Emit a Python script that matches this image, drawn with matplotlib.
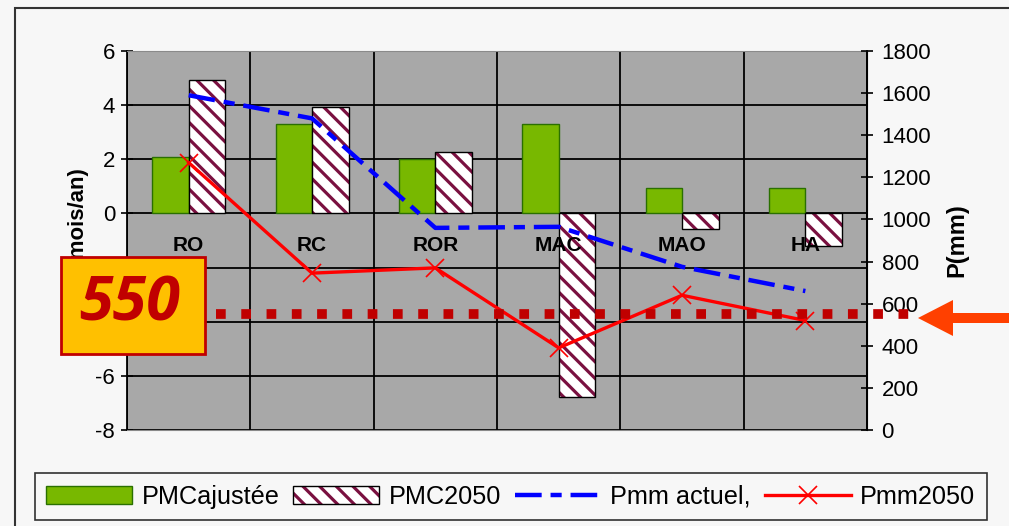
import numpy as np
import matplotlib
matplotlib.use("Agg")
import matplotlib.pyplot as plt
import matplotlib.patches as mpatches
import matplotlib.transforms as mtransforms
from matplotlib.lines import Line2D

# Données par unité
categories = ["RO", "RC", "ROR", "MAC", "MAO", "HA"]
pmc_ajustee = [2.07, 3.29, 2.0, 3.29, 0.93, 0.93]
pmc_2050 = [4.93, 3.93, 2.26, -6.77, -0.59, -1.2]
pmm_actuel = [1590, 1480, 960, 965, 775, 660]
pmm_2050 = [1270, 745, 770, 390, 640, 520]
seuil = 550

left_ticks = [-8, -6, -4, -2, 0, 2, 4, 6]
right_ticks = [0, 200, 400, 600, 800, 1000, 1200, 1400, 1600, 1800]

bg = "#F7F7F7"
green = "#78B800"
maroon = "#7A1040"
blue_dash = (0, (6, 2, 2.5, 2))

plt.rcParams["font.family"] = ["Liberation Sans", "DejaVu Sans"]
plt.rcParams["hatch.linewidth"] = 2.3
plt.rcParams["axes.unicode_minus"] = False

fig = plt.figure(figsize=(10.09, 5.26), dpi=100, facecolor=bg)
ax = fig.add_axes([0.1259, 0.1825, 0.7334, 0.7205])
ax.set_facecolor("#A8A8A8")

x = np.arange(len(categories))
w = 0.296

ax.bar(x - w / 2, pmc_ajustee, w, color=green, edgecolor="#2A7000", linewidth=1, zorder=2)
ax.bar(x + w / 2, pmc_2050, w, color="white", edgecolor=maroon, hatch="\\\\", linewidth=0, zorder=2)
ax.bar(x + w / 2, pmc_2050, w, fill=False, edgecolor="black", linewidth=1, zorder=3)

ax.set_xlim(-0.5, len(categories) - 0.5)
ax.set_ylim(-8, 6)
ax.set_yticks(left_ticks)
ax.set_xticks(np.arange(-0.5, len(categories), 1))
ax.set_xticklabels([])
ax.tick_params(axis="x", length=0)
ax.tick_params(axis="y", direction="inout", length=9, width=1.2, labelsize=16, pad=4)
ax.grid(True, color="black", linewidth=1.3)
ax.set_axisbelow(True)

for i, c in enumerate(categories):
    ax.text(i, -1.2, c, ha="center", va="center", fontsize=15, fontweight="bold", zorder=5)

ax.set_ylabel("PMC(mois/an)", fontsize=16, fontweight="bold", labelpad=6)

for side in ["top", "bottom"]:
    ax.spines[side].set_color("#8A8A8A")
ax.spines["left"].set_linewidth(1.3)

ax2 = ax.twinx()
ax2.set_ylim(0, 1800)
ax2.set_yticks(right_ticks)
ax2.tick_params(axis="y", direction="inout", length=9, width=1.2, labelsize=16, pad=6)
ax2.spines["right"].set_linewidth(1.3)
ax2.spines["top"].set_visible(False)
ax2.spines["bottom"].set_visible(False)
ax2.spines["left"].set_visible(False)
ax2.set_ylabel("P(mm)", fontsize=17, fontweight="bold", labelpad=10)

ax2.plot(x, pmm_actuel, color="#0000FF", linewidth=3.2, linestyle=blue_dash, zorder=4)
ax2.plot(x, pmm_2050, color="#FF0000", linewidth=2.4, marker="x", markersize=13,
         markeredgewidth=1.2, zorder=4)

# Seuil 550 mm en pointillés
trans = mtransforms.blended_transform_factory(ax2.transAxes, ax2.transData)
ax2.plot([0.12, 1.069], [seuil, seuil], transform=trans, color="#C00000", linewidth=7,
         linestyle=(0, (1, 1.6)), dash_capstyle="butt", clip_on=False, zorder=6)

# Flèche orange à droite
arrow = mpatches.Polygon(
    [(918, 208), (953, 226), (953, 213), (1012, 213), (1012, 203), (953, 203), (953, 190)],
    closed=True, facecolor="#FF4000", edgecolor="none", transform=mtransforms.IdentityTransform())
fig.add_artist(arrow)

# Cadre "550"
box = mpatches.Rectangle((61 / 1009, 172 / 526), 144 / 1009, 97 / 526, transform=fig.transFigure,
                         facecolor="#FFC000", edgecolor="#C00000", linewidth=2, zorder=10)
fig.add_artist(box)
fig.text(130 / 1009, 221 / 526, str(seuil), ha="center", va="center", fontsize=44,
         fontweight="bold", fontstyle="italic", color="#C00000",
         family=["Open Sans", "DejaVu Sans"], zorder=11)

# Cadre extérieur
frame = mpatches.Rectangle((15 / 1009, -0.1), 1.2, (518 / 526) + 0.1, transform=fig.transFigure,
                           fill=False, edgecolor="#333333", linewidth=1.5)
fig.add_artist(frame)

handles = [
    mpatches.Patch(facecolor=green, edgecolor="#2A7000"),
    (mpatches.Patch(facecolor="white", edgecolor=maroon, hatch="\\\\", linewidth=0),
     mpatches.Patch(fill=False, edgecolor="black", linewidth=1)),
    Line2D([], [], color="#0000FF", linewidth=3.2, linestyle=blue_dash),
    Line2D([], [], color="#FF0000", linewidth=2.4, marker="x", markersize=13, markeredgewidth=1.2),
]
labels = ["PMCajustée", "PMC2050", "Pmm actuel,", "Pmm2050"]
leg = fig.legend(handles, labels, loc="lower left", bbox_to_anchor=(0.0347, 0.011),
                 ncol=4, fontsize=18.2, frameon=True, fancybox=False,
                 edgecolor="black", facecolor=bg, handlelength=3.4, handletextpad=0.37,
                 columnspacing=0.55, numpoints=1, borderpad=0.45, borderaxespad=0)
leg.get_frame().set_linewidth(1.2)

fig.savefig("out.png", dpi=100, facecolor=bg)
